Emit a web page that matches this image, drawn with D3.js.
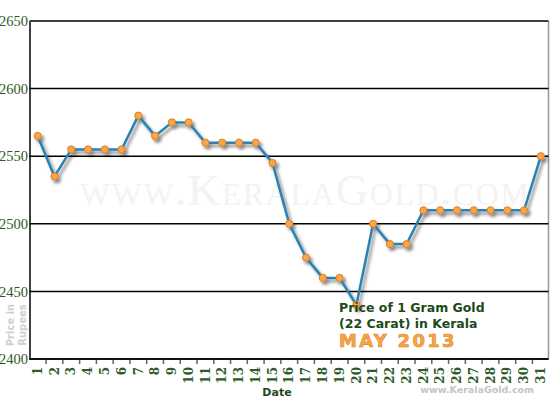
<!DOCTYPE html>
<html><head><meta charset="utf-8">
<script src="https://cdn.jsdelivr.net/npm/d3@7"></script>
<style>body{margin:0;background:#fff}svg{display:block}</style>
</head><body><svg id="c" width="550" height="400"></svg>
<script>
const dates = d3.range(1, 32).map(String);
const prices = [2565,2535,2555,2555,2555,2555,2580,2565,2575,2575,2560,2560,2560,2560,2545,2500,2475,2460,2460,2440,2500,2485,2485,2510,2510,2510,2510,2510,2510,2510,2550];
const yTicks = [2400,2450,2500,2550,2600,2650];

const svg = d3.select("#c");
const L = 29.5, R = 548.5, T = 21, B = 359;
const x = d3.scaleBand().domain(dates).range([29.3, 549.2]).padding(0);
const y = d3.scaleLinear().domain([2400, 2650]).range([B, T]);

const defs = svg.append("defs");
const f = defs.append("filter").attr("id","sh").attr("x","-10%").attr("y","-10%").attr("width","130%").attr("height","130%");
f.append("feDropShadow").attr("dx",2.5).attr("dy",3).attr("stdDeviation",1.8).attr("flood-color","#000").attr("flood-opacity",0.45);

// watermark
svg.append("text").attr("x", 305).attr("y", 205).attr("text-anchor","middle")
  .attr("font-family","'Liberation Serif','DejaVu Serif',serif").attr("font-size",45)
  .style("font-variant","small-caps").attr("letter-spacing",1.5)
  .attr("fill","#f3f3f3").text("www.KeralaGold.com");

// right border
svg.append("line").attr("x1",R).attr("x2",R).attr("y1",T).attr("y2",B).attr("stroke","#999").attr("stroke-width",1.5);

// grid
svg.append("g").selectAll("line").data(yTicks).join("line")
  .attr("x1",L).attr("x2",R).attr("y1",d=>y(d)).attr("y2",d=>y(d))
  .attr("stroke","#000").attr("stroke-width",1.5);

// y axis
const ya = svg.append("g").attr("transform",`translate(${L},0)`)
  .call(d3.axisLeft(y).tickValues(yTicks).tickSize(0).tickPadding(1.5).tickFormat(d3.format("d")));
ya.select(".domain").attr("stroke","#000").attr("stroke-width",1.5);
ya.selectAll("text").attr("font-family","'Liberation Serif','Times New Roman',serif").attr("font-size",14.5).attr("fill","#2f5a2a").attr("dy","0.33em");

// x axis
const xa = svg.append("g").attr("transform",`translate(0,${B})`)
  .call(d3.axisBottom(x).tickSize(0).tickFormat(d=>d));
xa.select(".domain").remove();
xa.selectAll("text").attr("transform","rotate(-90)").attr("text-anchor","end")
  .attr("x",-8).attr("y",0).attr("dy","0.35em")
  .attr("font-family","'DejaVu Serif',serif").attr("font-size",12).attr("font-weight","bold").attr("fill","#2f5a2a");
// tick marks at band boundaries
svg.append("g").selectAll("line").data(dates.slice(1)).join("line")
  .attr("x1",d=>x(d)).attr("x2",d=>x(d)).attr("y1",B).attr("y2",B+5)
  .attr("stroke","#666").attr("stroke-width",1.5);
svg.append("line").attr("x1",L).attr("x2",R).attr("y1",B).attr("y2",B).attr("stroke","#000").attr("stroke-width",1.5);

// line + markers
const cx = d => x(d) + x.bandwidth()/2;
const g = svg.append("g").attr("filter","url(#sh)");
g.append("path").datum(prices)
  .attr("d", d3.line().x((d,i)=>cx(dates[i])).y(d=>y(d)))
  .attr("fill","none").attr("stroke","#2b82b4").attr("stroke-width",2.5);
g.selectAll("circle").data(prices).join("circle")
  .attr("cx",(d,i)=>cx(dates[i])).attr("cy",d=>y(d)).attr("r",3.6)
  .attr("fill","#f8a64a").attr("stroke","#e07d20").attr("stroke-width",1);

// labels
svg.append("text").attr("x",277).attr("y",395.5).attr("text-anchor","middle")
  .attr("font-family","'DejaVu Sans',sans-serif").attr("font-weight","bold").attr("font-size",11).attr("fill","#1f4a1f").text("Date");
const pr = svg.append("text").attr("transform","translate(0,325) rotate(-90)").attr("text-anchor","middle")
  .attr("font-family","'DejaVu Sans',sans-serif").attr("font-weight","bold").attr("font-size",10).attr("fill","#cfcfcf");
pr.append("tspan").attr("x",0).attr("y",13.5).text("Price in");
pr.append("tspan").attr("x",0).attr("y",25.5).text("Rupees");

const tt = svg.append("text").attr("font-family","'DejaVu Sans',sans-serif").attr("font-weight","bold").attr("font-size",12.5).attr("fill","#1e4a1a");
tt.append("tspan").attr("x",339).attr("y",312).text("Price of 1 Gram Gold");
tt.append("tspan").attr("x",339).attr("y",328).text("(22 Carat) in Kerala");
svg.append("text").attr("x",339).attr("y",347).attr("font-family","'DejaVu Sans',sans-serif").attr("font-weight","bold")
  .attr("font-size",18).attr("letter-spacing",2.3).attr("fill","#f7a545").attr("stroke","#e0862a").attr("stroke-width",0.6).text("MAY 2013");
svg.append("text").attr("x",534).attr("y",393).attr("text-anchor","end").attr("font-family","'DejaVu Sans',sans-serif").attr("font-weight","bold")
  .attr("font-size",9.5).attr("fill","#c4c4c4").text("www.KeralaGold.com");
</script></body></html>
